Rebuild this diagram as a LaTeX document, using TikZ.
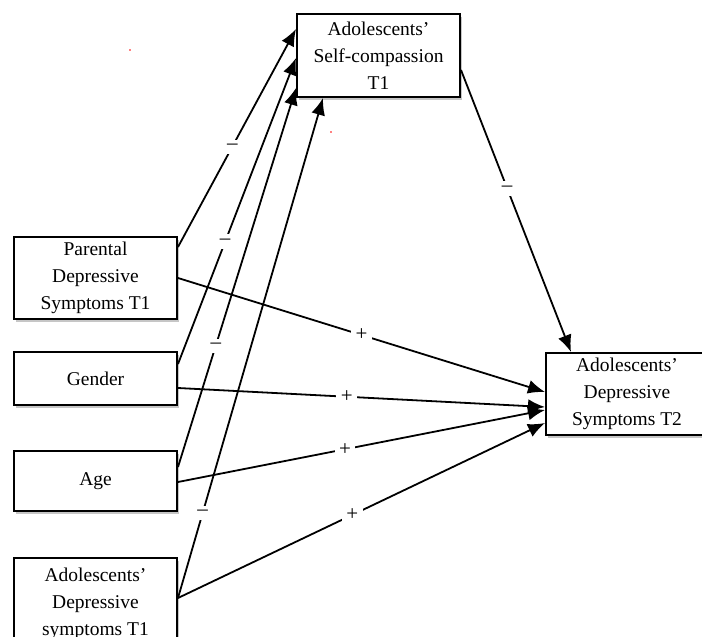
\documentclass[tikz,border=0pt]{standalone}
\usepackage{fontspec}
\setmainfont{Liberation Serif}
\usetikzlibrary{arrows.meta,shadows,calc}
\begin{document}
\begin{tikzpicture}[x=1pt,y=-1pt,
  box/.style={draw, line width=2pt, fill=white, align=center,
    font=\fontsize{19.5}{27}\selectfont, inner sep=0pt,
    drop shadow={shadow xshift=2pt, shadow yshift=-2.5pt, opacity=0.45}},
  conn/.style={line width=1.8pt, -{Latex[length=17pt,width=14pt]}},
  sgn/.style={fill=white, inner sep=4.5pt, font=\fontsize{21}{21}\selectfont}
]
\useasboundingbox (0,0) rectangle (702,637);
% boxes
\node[box, minimum width=163pt, minimum height=83pt] (sc) at (378.5,55.5) {Adolescents’\\Self-compassion\\T1};
\node[box, minimum width=163pt, minimum height=82pt] (par) at (95.5,278) {Parental\\Depressive\\Symptoms T1};
\node[box, minimum width=163pt, minimum height=53pt] (gen) at (95.5,378.5) {Gender};
\node[box, minimum width=163pt, minimum height=60pt] (age) at (95.5,481) {Age};
\node[box, minimum width=163pt, minimum height=92pt] (ad) at (95.5,604) {Adolescents’\\Depressive\\symptoms T1};
\node[box, minimum width=162pt, minimum height=82pt] (rb) at (627,394) {Adolescents’\\Depressive\\Symptoms T2};
% paths to self-compassion
\draw[conn] ([yshift=-11pt]par.north east) -- node[sgn,pos=0.46]{–} ([yshift=-16pt]sc.north west);
\draw[conn] ([yshift=-13pt]gen.north east) -- node[sgn,pos=0.40]{–} ([yshift=-45pt]sc.north west);
\draw[conn] ([yshift=-17pt]age.north east) -- node[sgn,pos=0.32]{–} ([yshift=10pt]sc.south west);
\draw[conn] ([yshift=6pt]ad.east) -- node[sgn,pos=0.17]{–} ([xshift=27pt]sc.south west);
% self-compassion to T2
\draw[conn] ([yshift=-14.5pt]sc.east) -- node[sgn,pos=0.42]{–} ([xshift=26pt]rb.north west);
% direct paths to T2
\draw[conn] (par.east) -- node[sgn,pos=0.50]{+} ([yshift=2pt]rb.west);
\draw[conn] ([yshift=-9.5pt]gen.east) -- node[sgn,pos=0.46]{+} ([yshift=-13pt]rb.west);
\draw[conn] ([yshift=-1pt]age.east) -- node[sgn,pos=0.455]{+} ([yshift=-16pt]rb.west);
\draw[conn] ([yshift=6pt]ad.east) -- node[sgn,pos=0.475]{+} ([yshift=-29pt]rb.west);
% stray marks
\fill[red] (130,50) circle (0.9pt);
\fill[red] (331,132) circle (0.9pt);
\end{tikzpicture}
\end{document}
